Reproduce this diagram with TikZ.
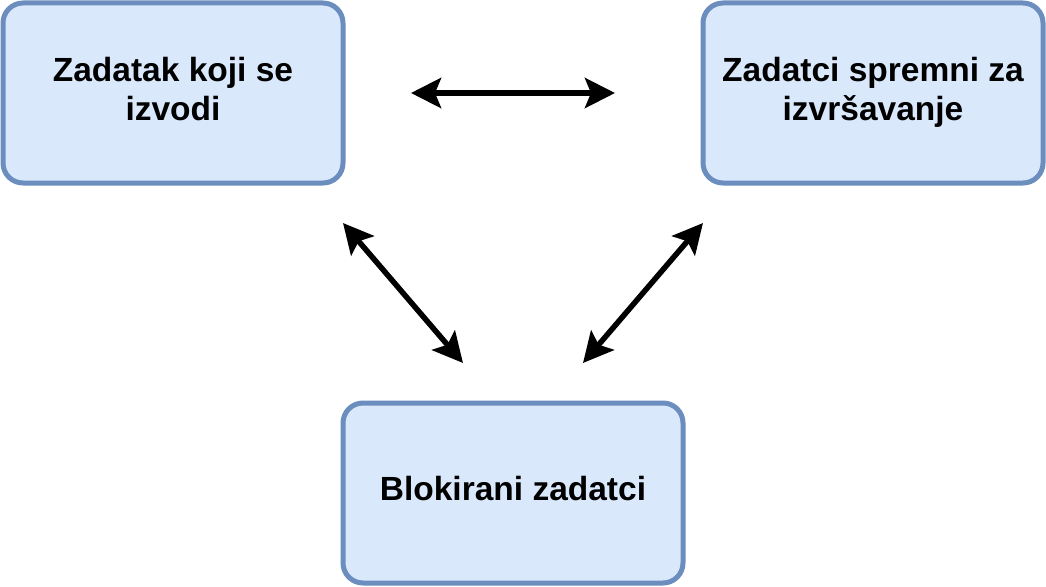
\documentclass[tikz,border=0pt]{standalone}
\usepackage{fontspec}
\setmainfont{Liberation Sans}
\usetikzlibrary{arrows.meta}
\definecolor{boxfill}{HTML}{DAE8FC}
\definecolor{boxline}{HTML}{6C8EBF}
\newcommand{\boxtext}[1]{\begin{tabular}{@{}c@{}}#1\end{tabular}}
\tikzset{
  statebox/.style={draw=boxline, fill=boxfill, line width=5pt, rounded corners=20pt,
    minimum width=340pt, minimum height=180pt, inner sep=0pt,
    font=\fontsize{33.5}{39}\selectfont\bfseries},
  tiphead/.style={Stealth[length=30pt,width=30pt,inset=6pt]},
  conn/.style={line width=5.5pt, {Stealth[length=30pt,width=30pt,inset=6pt]}-{Stealth[length=30pt,width=30pt,inset=6pt]}}
}
\begin{document}
\begin{tikzpicture}[x=1pt,y=-1pt]
\useasboundingbox (0,0) rectangle (1046,586);
\node[statebox] (run) at (173,93) {\boxtext{Zadatak koji se\\izvodi}};
\node[statebox] (ready) at (873,93) {\boxtext{Zadatci spremni za\\izvršavanje}};
\node[statebox] (blocked) at (513,493) {\boxtext{Blokirani zadatci}};
\coordinate (h1) at (411,93);
\coordinate (h2) at (615,93);
\coordinate (l1) at (343,223);
\coordinate (l2) at (463,363);
\coordinate (r1) at (703,223);
\coordinate (r2) at (583,363);
\draw[conn] (h1) -- (h2);
\draw[conn] (l1) -- (l2);
\draw[conn] (r1) -- (r2);
\end{tikzpicture}
\end{document}
